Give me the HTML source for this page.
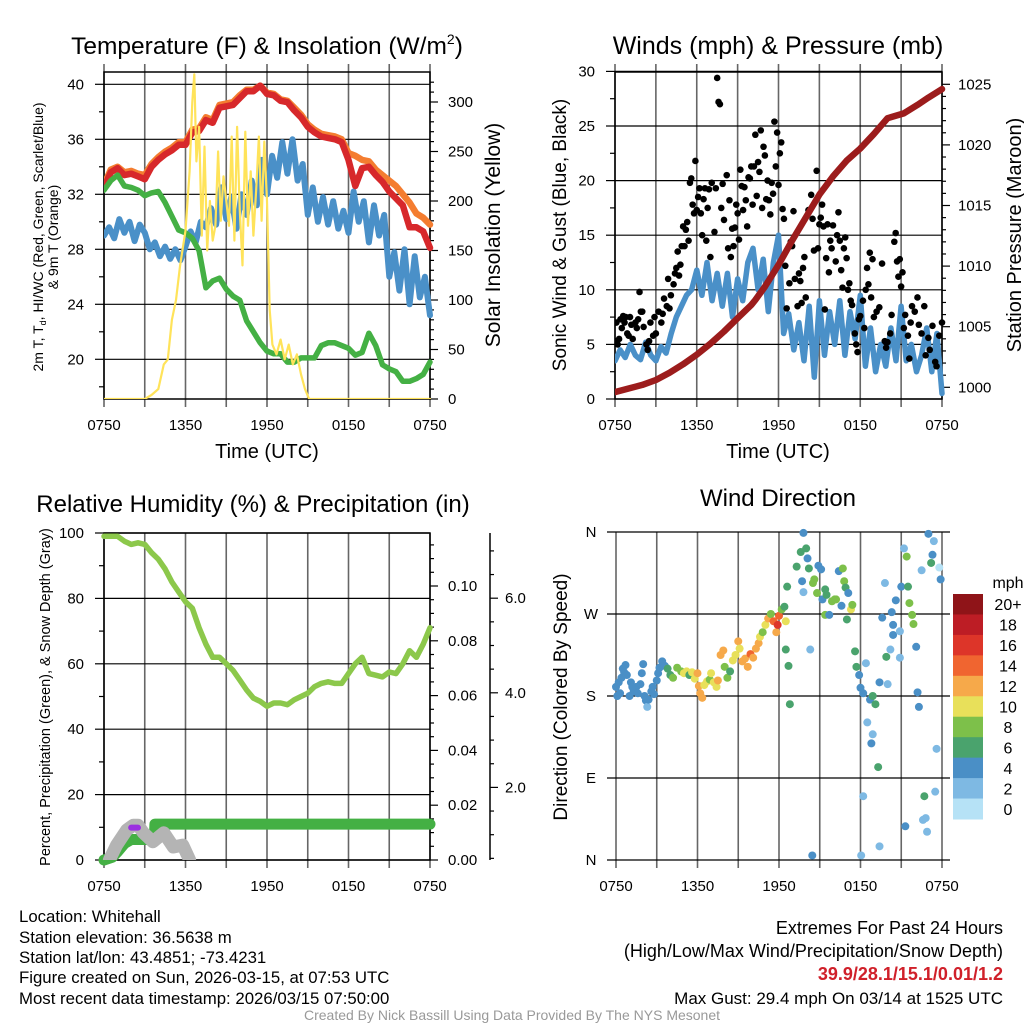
<!DOCTYPE html>
<html><head><meta charset="utf-8">
<style>
html,body{margin:0;padding:0;background:#fff;}
svg{display:block;font-family:"Liberation Sans",Arial,sans-serif;}
</style></head>
<body>
<svg id="chart" width="1024" height="1024" viewBox="0 0 1024 1024" xmlns="http://www.w3.org/2000/svg">
<rect width="1024" height="1024" fill="#fff"/>
<text x="267" y="54" font-size="24.5" text-anchor="middle">Temperature (F) &amp; Insolation (W/m<tspan font-size="14" dy="-10">2</tspan><tspan dy="10">)</tspan></text>
<text x="778" y="54" font-size="25" text-anchor="middle">Winds (mph) &amp; Pressure (mb)</text>
<text x="253" y="512" font-size="24" text-anchor="middle">Relative Humidity (%) &amp; Precipitation (in)</text>
<text x="778" y="506" font-size="24" text-anchor="middle">Wind Direction</text>

<text transform="translate(43,237) rotate(-90)" font-size="14" text-anchor="middle">2m T, T<tspan font-size="9" dy="3">d</tspan><tspan dy="-3">, HI/WC (Red, Green, Scarlet/Blue)</tspan></text>
<text transform="translate(58,237) rotate(-90)" font-size="14" text-anchor="middle">&amp; 9m T (Orange)</text>
<text transform="translate(500,235) rotate(-90)" font-size="21" text-anchor="middle">Solar Insolation (Yellow)</text>
<text x="267" y="458" font-size="20" text-anchor="middle">Time (UTC)</text>
<text transform="translate(566,235) rotate(-90)" font-size="19" text-anchor="middle">Sonic Wind &amp; Gust (Blue, Black)</text>
<text transform="translate(1021,235) rotate(-90)" font-size="20" text-anchor="middle">Station Pressure (Maroon)</text>
<text x="778" y="458" font-size="20" text-anchor="middle">Time (UTC)</text>
<text transform="translate(50,697) rotate(-90)" font-size="14.5" text-anchor="middle">Percent, Precipitation (Green), &amp; Snow Depth (Gray)</text>
<text transform="translate(567,697) rotate(-90)" font-size="19" text-anchor="middle">Direction (Colored By Speed)</text>

<g font-size="16.8">
<text x="19" y="922">Location: Whitehall</text>
<text x="19" y="943">Station elevation: 36.5638 m</text>
<text x="19" y="963">Station lat/lon: 43.4851; -73.4231</text>
<text x="19" y="983">Figure created on Sun, 2026-03-15, at 07:53 UTC</text>
<text x="19" y="1004">Most recent data timestamp: 2026/03/15 07:50:00</text>
</g>
<g font-size="18" text-anchor="end">
<text x="1003" y="934">Extremes For Past 24 Hours</text>
<text x="1003" y="957">(High/Low/Max Wind/Precipitation/Snow Depth)</text>
<text x="1003" y="980" fill="#d0202a" font-weight="bold">39.9/28.1/15.1/0.01/1.2</text>
<text x="1003" y="1004" font-size="17">Max Gust: 29.4 mph On 03/14 at 1525 UTC</text>
</g>
<text x="512" y="1020" font-size="14" fill="#999" text-anchor="middle">Created By Nick Bassill Using Data Provided By The NYS Mesonet</text>
</svg>
<script>
// ---------- DATA ----------
const xTickLabels = ["0750","1350","1950","0150","0750"];
// Panel 1 (half-hourly, 0..24 h)
const tempRed = [32.5,33.6,33.9,33.4,33.5,33.3,33.1,34.0,34.5,34.9,35.2,35.6,35.6,36.5,36.6,37.4,37.2,38.3,38.4,38.5,39.0,39.5,39.5,39.9,39.3,39.2,38.8,38.7,38.1,37.6,36.9,36.5,36.2,36.1,36.0,35.8,34.5,32.6,33.9,34.0,33.4,32.9,32.2,31.7,31.2,29.6,29.6,29.3,28.1];
const temp9m = [32.7,33.8,34.0,33.6,33.7,33.5,33.4,34.2,34.7,35.1,35.4,35.8,35.8,36.7,36.8,37.6,37.4,38.5,38.6,38.7,39.2,39.6,39.6,39.9,39.4,39.3,38.9,38.8,38.3,37.8,37.1,36.7,36.4,36.3,36.2,36.0,35.0,34.8,34.5,34.4,33.8,33.4,33.0,32.6,32.0,31.4,30.6,30.3,29.8];
const dewpoint = [32.3,33.0,33.4,32.6,32.5,32.3,31.9,32.1,32.2,31.4,30.4,29.4,29.2,28.8,27.9,25.2,25.7,25.9,25.1,24.6,24.3,22.8,22.0,21.2,20.6,20.4,20.4,19.8,19.8,20.1,20.1,20.1,21.0,21.2,21.2,21.0,20.8,20.3,20.5,21.9,21.0,19.6,19.3,19.1,18.4,18.4,18.6,18.9,19.8];
const windChill = [29.0,29.6,28.8,30.2,29.2,30.0,28.6,29.8, 29.2,28.0,28.5,27.5,28.2,27.3,28.0,27.2, 28.2,29.3,28.5,30.0,29.6,31.0,29.8,32.5, 30.2,31.8,29.5,32.0,30.5,33.0,31.2,34.5, 32.0,34.8,33.2,35.8,33.5,36.0,33.0,34.2, 30.5,32.5,30.0,31.8,29.8,31.5,29.5,30.8, 29.2,32.2,30.0,31.5,28.5,31.2,29.0,30.5, 26.0,27.8,25.0,28.0,24.0,27.5,24.5,26.0,23.2];
const solarTimes = [0,3,3.5,4,4.4,4.7,5,5.3,5.6,6,6.3,6.5,6.65,6.8,7.0,7.2,7.4,7.6,7.8,8.0,8.2,8.4,8.6,8.8,9.0,9.2,9.4,9.6,9.8,10.0,10.2,10.4,10.6,10.8,11.0,11.2,11.4,11.6,11.8,12.0,12.2,12.4,12.7,13.0,13.3,13.6,13.9,14.2,14.5,14.8,15.1,24];
const solarValues = [0,0,4,10,35,40,80,100,135,170,230,300,328,240,275,165,255,150,200,160,175,250,180,225,200,175,265,160,275,190,135,270,175,230,165,210,265,180,260,200,90,55,45,60,40,55,35,45,25,10,0,0];
// Panel 2
const windSpeed = [3.5,4.5,3.8,5.0,4.0,3.6,5.2,4.0, 3.5,4.8,4.2,6.0,7.5,8.5,9.5,10.0, 11.8,9.5,12.5,9.0,11.5,8.5,11.5,7.5, 11.0,9.0,12.5,13.8,10.0,12.8,8.0,12.5, 15.0,6.0,7.8,4.5,7.0,3.5,8.5,2.0, 9.0,4.0,8.0,5.0,9.0,4.0,8.0,5.5, 9.5,3.0,6.5,2.5,5.0,3.0,6.5,3.5, 8.5,3.5,5.0,2.5,4.0,6.5,2.5,6.0,0.5];
const pressureTimes = [0,1,2,3,4,5,6,7,8,9,10,10.3,11,12,13,14,15,16,17,18,19,20,21.2,22.2,23,24];
const pressureValues = [999.6,999.9,1000.2,1000.6,1001.2,1001.9,1002.7,1003.6,1004.6,1005.7,1006.8,1007.2,1008.3,1010.1,1012.1,1014.0,1015.9,1017.4,1018.7,1019.7,1020.9,1022.2,1022.6,1023.3,1023.9,1024.6];
const gustTimes = [0.05,0.1,0.2,0.3,0.4,0.5,0.6,0.7,0.8,0.9,1,1.1,1.2,1.3,1.5,1.6,1.7,1.8,1.9,2,2.1,2.3,2.4,2.5,2.6,2.8,2.9,3,3.2,3.4,3.5,3.6,3.8,3.9,4,4.1,4.3,4.4,4.5,4.6,4.7,4.8,4.9,5,5.1,5.2,5.3,5.4,5.5,5.6,5.7,5.8,5.9,6,6.1,6.2,6.3,6.4,6.5,6.6,6.7,6.8,6.9,7,7.1,7.3,7.4,7.5,7.6,7.7,7.8,7.9,8,8.2,8.3,8.4,8.5,8.6,8.7,8.8,8.9,9,9.1,9.2,9.3,9.4,9.5,9.6,9.7,9.8,9.9,10,10.1,10.2,10.3,10.4,10.5,10.6,10.7,10.8,10.9,11,11.1,11.2,11.3,11.4,11.5,11.6,11.7,11.8,11.9,12,12.1,12.2,12.3,12.4,12.5,12.6,12.8,12.9,13,13.1,13.2,13.4,13.5,13.6,13.7,13.8,13.9,14,14.2,14.4,14.5,14.6,14.8,14.9,15,15.1,15.2,15.3,15.4,15.5,15.6,15.7,15.8,15.9,16,16.2,16.3,16.4,16.5,16.6,16.7,16.8,16.9,17,17.1,17.2,17.3,17.4,17.6,17.7,17.8,17.9,18,18.2,18.3,18.4,18.5,18.6,18.7,18.8,18.9,19,19.2,19.4,19.6,19.8,19.9,20,20.2,20.3,20.5,20.6,20.7,20.8,20.9,21,21.1,21.2,21.3,21.5,21.6,21.7,21.8,22,22.2,22.3,22.5,22.7,22.8,23,23.1,23.3,23.5,23.6,23.8,24];
const gustValues = [5.3,7,5,5.5,7.3,6.5,7.6,7,7.5,6,5.8,7.5,6.8,5.5,7,6.5,7.3,9.8,8,8,6.6,5,4.5,5.3,7,5.8,7.5,6,8,7,7.8,9.2,8.5,11,8.3,9.5,10.5,11.5,12,13.5,11.3,12.3,14,15.8,14,15.5,16.2,14.5,19.8,20.2,17.8,17,21.8,17.3,18.5,19.3,17,15,18.3,19.3,14.5,17.5,19.2,13,19.8,15.3,19.3,29.4,27.2,27,17.5,19.7,16.4,20.5,13.8,18.2,13,15.6,14,15.7,17.8,17,14.6,21,19.5,17.3,19.4,18.2,15.8,20.3,20.2,21.3,17.8,21.3,24.2,18.6,21.7,20.8,24.6,17.5,23.1,22.3,18.3,20,18.2,16.9,19.8,18.8,25.4,21.3,24.4,19.6,22.5,23.5,17.4,16.5,12.2,8.3,10.6,14.4,14,17.2,11,8.5,11.5,10.8,8.8,12,13,9.3,17.3,18.7,16.5,13.6,20.9,13.8,16,16.6,17.8,15.8,8.2,12.9,16,11.6,14.5,13.8,15.9,12.6,15,17.1,14.5,11.8,10.2,13.8,14.8,12.9,10,10.6,9,8.6,6,5,4.3,7.3,7.6,9,6.5,10,12,10.5,13.4,9.3,12.8,7.5,8,8.4,12.4,5.3,4.7,5.2,6,7.7,14.4,15.2,12.6,11.2,12.8,10.3,11.6,6.5,7.7,5.8,3.7,7,8.5,8,9.3,6.8,6,8.5,4,5.6,4.5,6.7,3.4,3,5.8,7];
// Panel 3
const rhValues = [99,99,99,97.5,96.5,97,96.5,94,92,89,85,82,79,77,71,66,62,62,60,58,55,52,49.5,48.5,47,48,48,47.5,49,50,51,53,54,54.5,54,54,57,60,62,57,56.5,56,57.5,57,60,64,62,66,71];
const precipTimes = [0,0.6,1.0,1.5,2.0,3.0,3.7,3.75,24];
const precipValues = [0,0.001,0.003,0.006,0.0075,0.0075,0.0075,0.0131,0.0131];
const snowTimes = [0.4,0.93,1.67,2.16,2.5,2.9,3.6,4.4,5.1,5.8,6.3];
const snowValues = [0.47,0.78,1.1,1.2,1.2,1.04,0.85,1.04,0.74,0.78,0.47];
// Panel 4
const dirTimes = [0.0,0.1,0.2,0.3,0.4,0.5,0.6,0.7,0.8,1.0,1.1,1.2,1.3,1.5,1.6,1.8,1.9,2.0,2.1,2.2,2.3,2.4,2.6,2.7,2.8,3.0,3.1,3.2,3.4,3.6,3.8,4.0,4.2,4.5,4.8,5.0,5.2,5.4,5.6,5.8,6.0,6.1,6.2,6.35,6.5,6.7,6.9,7.0,7.2,7.4,7.5,7.7,7.9,8.0,8.2,8.4,8.6,8.8,9.0,9.1,9.3,9.5,9.7,9.9,10.1,10.3,10.5,10.6,10.8,11.0,11.2,11.4,11.6,11.8,11.9,12.0,12.2,12.4,12.5,12.6,12.7,12.8,12.5,13.3,13.7,13.8,13.6,14.0,14.1,14.2,13.8,14.3,14.45,14.5,14.6,14.8,14.9,15.1,15.2,15.4,15.4,15.5,15.7,15.9,16.1,16.2,16.4,16.6,16.7,16.8,16.9,17.0,17.1,17.3,17.4,17.6,17.7,17.9,18.0,18.2,18.7,18.9,19.1,18.2,18.05,19.4,19.3,18.8,18.9,18.5,18.4,19.4,19.6,19.8,20.0,19.9,20.2,20.3,20.4,20.4,20.6,20.9,20.9,21.0,21.2,21.3,21.4,21.5,21.6,21.8,21.9,22.1,22.2,22.3,22.5,22.6,22.7,22.8,22.9,23.0,23.2,23.3,23.4,23.5,23.6,23.8,23.9];
const dirValues = [190,180,195,183,200,210,206,214,203,180,195,190,185,190,183,193,205,215,180,175,168,176,185,190,182,197,205,211,218,213,210,203,200,211,207,205,207,203,206,199,205,191,183,178,192,196,198,205,195,190,197,225,230,212,200,207,219,225,240,232,218,221,212,226,222,232,238,245,250,258,265,270,262,250,258,268,275,278,262,300,213,171,231,322,306,359,338,342,331,320,294,231,5,304,308,293,323,319,286,269,297,291,269,284,286,286,317,279,320,306,299,264,293,275,280,229,212,203,189,183,176,180,171,70,5,15,102,128,138,151,216,195,266,304,193,223,231,272,247,258,285,222,251,300,342,37,333,300,282,269,259,234,184,168,318,44,70,46,31,358,326,335,350,75,122,321,308];
const dirSpeeds = [4,4,4,4,4,4,4,4,4,4,4,4,4,4,4,4,4,4,4,4,2,4,4,4,4,4,4,4,4,4,6,6,8,8,8,10,10,6,10,10,12,12,12,12,10,10,8,10,10,10,12,12,12,8,8,6,10,10,12,10,12,12,12,14,12,12,12,10,8,10,12,8,14,12,16,14,8,6,10,6,6,6,6,6,4,4,6,6,4,6,2,2,4,8,8,8,4,4,4,8,6,6,4,8,8,8,4,4,8,8,6,6,4,10,8,6,6,4,4,4,4,6,6,2,2,2,6,4,2,2,2,4,4,2,2,6,2,4,4,4,4,2,2,4,2,4,8,6,8,8,8,4,4,4,2,2,6,2,2,4,6,4,2,2,2,0,4];
const speedBins = ["20+","18","16","14","12","10","8","6","4","2","0"];
const speedColors = ["#8f1418","#bd1d25","#dd3529","#f06530","#f6a94a","#e8e05a","#7dc04a","#4aa36d","#4a8fc6","#7eb9e3","#b6e2f6"];

// ---------- HELPERS ----------
const svg = document.getElementById('chart');
const NS = 'http://www.w3.org/2000/svg';
function mk(tag, attrs, parent){
  const e = document.createElementNS(NS, tag);
  for (const k in attrs) e.setAttribute(k, attrs[k]);
  (parent||svg).appendChild(e);
  return e;
}
function evenTimes(n){ const a=[]; for(let i=0;i<n;i++) a.push(i*24/(n-1)); return a; }
function pathD(ts, vs, xs, ys){ return ts.map((t,i)=>(i?'L':'M')+xs(t).toFixed(1)+' '+ys(vs[i]).toFixed(1)).join(''); }
function colorFor(s){ let idx = Math.round(s/2); if(idx>10) idx=10; if(idx<0) idx=0; return speedColors[10-idx]; }

function frame(x0,x1,y0,y1,g,withBox){
  for(let h=0;h<=24;h+=3){
    const x = x0 + (x1-x0)*h/24;
    const ln = mk('line',{x1:x,x2:x,y1:y0-(withBox?8:0),y2:y1+8,stroke:'#666','stroke-width':1.6},g);
    
    
    if(h%6===0){
      const t = mk('text',{x:x,y:y1+31,'font-size':15,'text-anchor':'middle'},g);
      t.textContent = xTickLabels[h/6];
      
      
    }
  }
}
function hline(x0,x1,y,g,color){
  const l = mk('line',{x1:x0,x2:x1,y1:y,y2:y,stroke:color||'#000','stroke-width':1.2},g);
  
  
}
function tick(x,y,len,horiz,g){
  const l = horiz? mk('line',{x1:x,x2:x+len,y1:y,y2:y,stroke:'#000','stroke-width':1.2},g) : mk('line',{x1:x,x2:x,y1:y,y2:y+len,stroke:'#000','stroke-width':1.2},g);
  
  
}
function label(x,y,txt,anchor,g,size){
  const t = mk('text',{x:x,y:y+5,'font-size':size||15,'text-anchor':anchor},g);
  t.textContent = txt;
  
  
}
function series(ts,vs,xs,ys,color,w,g,name){
  const p = mk('path',{d:pathD(ts,vs,xs,ys),fill:'none',stroke:color,'stroke-width':w,'stroke-linejoin':'round','stroke-linecap':'round'},g);
  
  
  return p;
}

// ---------- PANEL 1 ----------
(function(){
  const x0=104,x1=430,y0=72,y1=399;
  const g = mk('g',{});
  
  
  const xs = t=>x0+(x1-x0)*t/24;
  const yT = v=>359.3-(v-20)*13.75;
  const yS = w=>399-w*0.99;
  const cp = mk('clipPath',{id:'c1'},g); mk('rect',{x:x0,y:y0-6,width:x1-x0+4,height:y1-y0+6},cp);
  frame(x0,x1,y0,y1,g,true);
  for(let v=18; v<=40; v+=2){ const y=yT(v); tick(x0-(v%4===0?9:5),y,(v%4===0?9:5),true,g); if(v%4===0){ hline(x0,x1,y,g); label(84,y,String(v),'end',g);} }
  for(let w=0; w<=320; w+=10){ const y=yS(w); tick(x1,y,(w%50===0?8:4),true,g); if(w%50===0) label(448,y,String(w),'start',g); }
  mk('rect',{x:x0,y:y0,width:x1-x0,height:y1-y0,fill:'none',stroke:'#000','stroke-width':1.5},g);
  const d = mk('g',{'clip-path':'url(#c1)'},g);
  series(evenTimes(windChill.length),windChill,xs,yT,'#4a90c8',6,d,'wind-chill-line');
  series(evenTimes(temp9m.length),temp9m,xs,yT,'#f47d30',6.5,d,'temp-9m-line');
  series(evenTimes(tempRed.length),tempRed,xs,yT,'#d7282b',6.5,d,'temp-2m-line');
  series(evenTimes(dewpoint.length),dewpoint,xs,yT,'#44b044',5.5,d,'dewpoint-line');
  series(solarTimes,solarValues,xs,yS,'#ffe35a',2.2,d,'solar-insolation-line');
})();

// ---------- PANEL 2 ----------
(function(){
  const x0=615,x1=942,y0=72,y1=399;
  const g = mk('g',{});
  
  
  const xs = t=>x0+(x1-x0)*t/24;
  const yW = v=>399-v*10.92;
  const yP = p=>387.3-(p-1000)*12.12;
  const cp = mk('clipPath',{id:'c2'},g); mk('rect',{x:x0,y:y0,width:x1-x0+4,height:y1-y0+3},cp);
  frame(x0,x1,y0,y1,g,true);
  for(let v=0; v<=30; v+=2.5){ const y=yW(v); const maj=v%5===0; tick(x0-(maj?9:5),y,(maj?9:5),true,g); if(maj){ hline(x0,x1,y,g); label(595,y,String(v),'end',g);} }
  for(let p=1000; p<=1025; p+=1){ const y=yP(p); tick(x1,y,(p%5===0?8:4),true,g); if(p%5===0) label(958,y,String(p),'start',g); }
  mk('rect',{x:x0,y:y0,width:x1-x0,height:y1-y0,fill:'none',stroke:'#000','stroke-width':1.5},g);
  const d = mk('g',{'clip-path':'url(#c2)'},g);
  series(evenTimes(windSpeed.length),windSpeed,xs,yW,'#4a90c8',5.5,d,'sonic-wind-line');
  gustTimes.forEach((t,i)=>{
    const c = mk('circle',{cx:xs(t),cy:yW(gustValues[i]),r:3.3,fill:'#000'},d);
    
    
  });
  series(pressureTimes,pressureValues,xs,yP,'#9c1c1c',6.5,d,'pressure-line');
})();

// ---------- PANEL 3 ----------
(function(){
  const x0=104,x1=430,y0=533,y1=860;
  const g = mk('g',{});
  
  
  const xs = t=>x0+(x1-x0)*t/24;
  const yR = v=>860-v*3.27;
  const yPr = p=>860-p*2740;
  const ySn = s=>882-s*47.3;
  const cp = mk('clipPath',{id:'c3'},g); mk('rect',{x:x0-8,y:y0,width:x1-x0+16,height:y1-y0},cp);
  const cp2 = mk('clipPath',{id:'c3b'},g); mk('rect',{x:x0-8,y:y0,width:x1-x0+16,height:y1-y0+10},cp2);
  frame(x0,x1,y0,y1,g,false);
  for(let v=0; v<=100; v+=10){ const y=yR(v); const maj=v%20===0; tick(x0-(maj?9:5),y,(maj?9:5),true,g); if(maj){ hline(x0,x1,y,g); label(84,y,String(v),'end',g);} }
  for(let p=0; p<=0.1191; p+=0.005){ const y=yPr(p); const maj=Math.round(p*1000)%20===0; tick(x1,y,(maj?8:4),true,g); if(maj) label(448,y,p.toFixed(2),'start',g); }
  const sa = mk('line',{x1:490,x2:490,y1:y0,y2:y1,stroke:'#000','stroke-width':1.5},g);
  
  
  for(let s=0.5; s<=7.5; s+=0.5){ const y=ySn(s); if(y<y0) continue; const maj=s%2===0; tick(490,y,(maj?8:4),true,g); if(maj) label(505,y,s.toFixed(1),'start',g); }
  mk('rect',{x:x0,y:y0,width:x1-x0,height:y1-y0,fill:'none',stroke:'#000','stroke-width':1.5},g);
  const d2 = mk('g',{'clip-path':'url(#c3b)'},g);
  series(snowTimes,snowValues,xs,ySn,'#b4b4b4',13,mk('g',{'clip-path':'url(#c3)'},g),'snow-depth-line');
  const pu = mk('line',{x1:xs(2.0),x2:xs(2.5),y1:yPr(0.0118),y2:yPr(0.0118),stroke:'#9b30e0','stroke-width':6,'stroke-linecap':'round'},g);
  
  
  series(precipTimes,precipValues,xs,yPr,'#44b044',11,d2,'precipitation-line');
  series(evenTimes(rhValues.length),rhValues,xs,yR,'#8cc84b',5.5,mk('g',{'clip-path':'url(#c3)'},g),'relative-humidity-line');
})();

// ---------- PANEL 4 ----------
(function(){
  const x0=616,x1=942,y0=532,y1=860;
  const g = mk('g',{});
  
  
  const xs = t=>x0+(x1-x0)*t/24;
  const yD = d=>860-d*(y1-y0)/360;
  frame(x0,x1,y0,y1,g,false);
  const names=['N','E','S','W','N'];
  for(let i=0;i<=4;i++){ const y=yD(i*90); hline(x0-9,x1+8,y,g); label(591,y,names[i],'middle',g); }
  dirTimes.forEach((t,i)=>{
    const c = mk('circle',{cx:xs(t),cy:yD(dirValues[i]),r:4,fill:colorFor(dirSpeeds[i])},g);
    
    
  });
  const cb = mk('g',{},g);
  
  
  const bh = (819-594)/speedBins.length;
  speedBins.forEach((b,i)=>{
    const r = mk('rect',{x:953,y:594+i*bh,width:30,height:bh+0.5,fill:speedColors[i]},cb);
    
    
    const t = mk('text',{x:1008,y:594+i*bh+bh/2+6,'font-size':16,'text-anchor':'middle'},cb);
    t.textContent = b;
    
    
  });
  const m = mk('text',{x:1008,y:588,'font-size':16,'text-anchor':'middle'},cb);
  m.textContent='mph';
  
  
})();
</script>
</body></html>
